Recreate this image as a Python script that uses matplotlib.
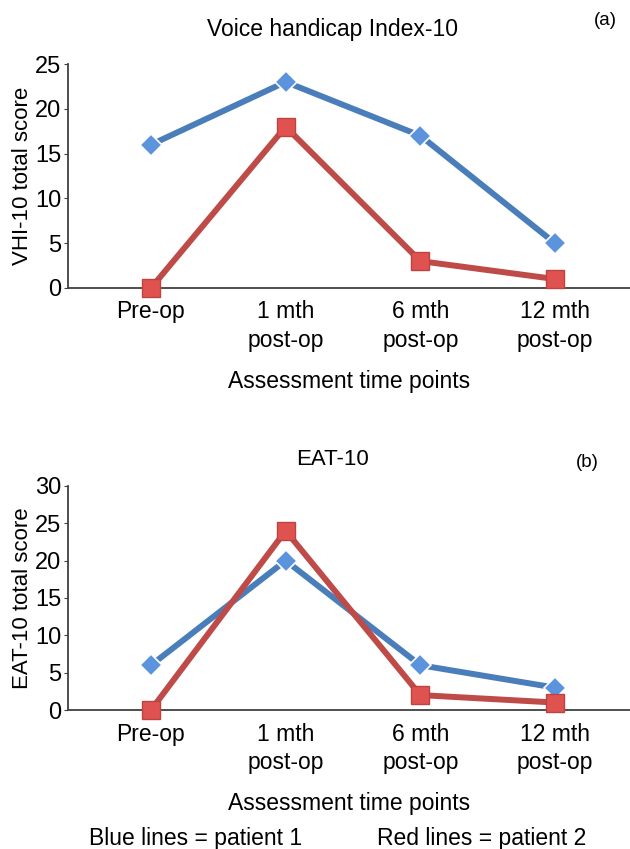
import matplotlib.pyplot as plt

plt.rcParams['font.family'] = ['Liberation Sans', 'DejaVu Sans']

# data
time_points = ['Pre-op', '1 mth\npost-op', '6 mth\npost-op', '12 mth\npost-op']
vhi_patient1 = [16, 23, 17, 5]
vhi_patient2 = [0, 18, 3, 1]
eat_patient1 = [6, 20, 6, 3]
eat_patient2 = [0, 24, 2, 1]

blue = '#4A7EBB'
red = '#BE4B48'

fig = plt.figure(figsize=(6.3, 8.49), dpi=100)
ax1 = fig.add_axes([0.108, 0.6608, 0.892, 0.2638])
ax2 = fig.add_axes([0.108, 0.1637, 0.892, 0.2639])

panels = [
    (ax1, vhi_patient1, vhi_patient2, 'VHI-10 total score', 25),
    (ax2, eat_patient1, eat_patient2, 'EAT-10 total score', 30),
]

x = range(len(time_points))
for ax, p1, p2, ylabel, ymax in panels:
    ax.plot(x, p1, color=blue, lw=4.3, marker='D', ms=11, mfc='#5B93DC',
            mec='white', mew=1.2, clip_on=False, zorder=3)
    ax.plot(x, p2, color=red, lw=4.3, marker='s', ms=13, mfc='#E0524F',
            mec='#B84542', mew=1.0, clip_on=False, zorder=4)
    ax.set_xlim(-0.616, 3.557)
    ax.set_ylim(0, ymax)
    ax.set_yticks(range(0, ymax + 1, 5))
    ax.set_xticks(list(x))
    ax.set_xticklabels(time_points, fontsize=16.5, linespacing=1.3)
    ax.tick_params(axis='x', length=0, pad=9)
    ax.tick_params(axis='y', labelsize=17, length=3, color='#404040', pad=2)
    for s in ['top', 'right']:
        ax.spines[s].set_visible(False)
    for s in ['left', 'bottom']:
        ax.spines[s].set_color('#404040')
        ax.spines[s].set_linewidth(1.3)
    ax.set_ylabel(ylabel, fontsize=16, labelpad=1)
    ax.set_xlabel('Assessment time points', fontsize=16.5, labelpad=13)

ax1.set_title('Voice handicap Index-10', fontsize=16.5, pad=20, x=0.47)
ax2.set_title('EAT-10', fontsize=16, pad=15, x=0.47)

fig.text(0.961, 0.976, '(a)', fontsize=13.5, ha='center', va='center')
fig.text(0.933, 0.455, '(b)', fontsize=13.5, ha='center', va='center')
fig.text(0.311, 0.012, 'Blue lines = patient 1', fontsize=16.5, ha='center', va='center')
fig.text(0.764, 0.012, 'Red lines = patient 2', fontsize=16.5, ha='center', va='center')

fig.savefig('out.png', dpi=100)
